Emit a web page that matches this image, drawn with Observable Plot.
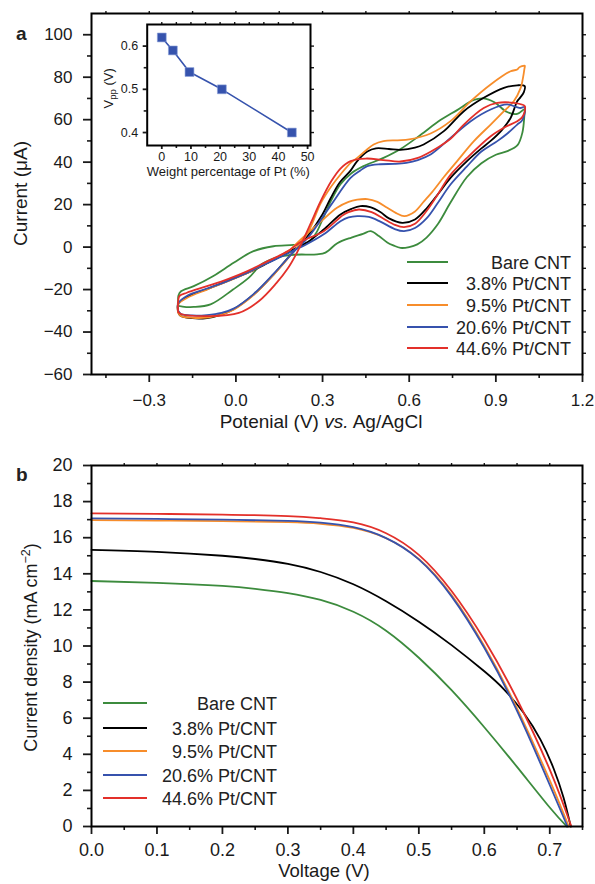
<!DOCTYPE html>
<html><head><meta charset="utf-8">
<script src="https://cdn.jsdelivr.net/npm/d3@7"></script>
<script src="https://cdn.jsdelivr.net/npm/@observablehq/plot@0.6"></script>
<style>
body{margin:0;background:#fff;font-family:"Liberation Sans",Arial,sans-serif;}
#root{position:relative;width:595px;height:884px;overflow:hidden;background:#fff}
#root svg{position:absolute;overflow:visible}
.lg{position:absolute;font-size:18px;color:#222;white-space:nowrap;line-height:1}
.lgline{position:absolute;height:2px}
.panel{position:absolute;font-weight:bold;font-size:19px;color:#222}
</style></head><body><div id="root"></div>
<script>
const FONT = "Liberation Sans, Arial, sans-serif";
const seriesNames = ["Bare CNT", "3.8% Pt/CNT", "9.5% Pt/CNT", "20.6% Pt/CNT", "44.6% Pt/CNT"];
const seriesColors = ["#3c8b3d", "#000000", "#f78d2b", "#3652ad", "#e3302a"];

// ---- Panel a: cyclic voltammograms [potential (V), current (µA)] ----
const cvBare = [[-0.2,-25.5],[-0.199,-22.8],[-0.19,-20.8],[-0.146,-18.4],[-0.078,-13.6],[-0.008,-7.4],[0.061,-1.9],[0.13,0.4],[0.2,1.0],[0.247,1.9],[0.275,6],[0.3,13],[0.33,22],[0.362,29.6],[0.4,34.8],[0.44,38],[0.511,42],[0.57,46.2],[0.639,52.8],[0.708,59.8],[0.766,64.5],[0.824,69.3],[0.858,70],[0.895,68.2],[0.939,63.6],[0.974,62.7],[1.0,65],
  [0.999,62.5],[0.992,54],[0.975,48],[0.94,45.2],[0.9,43.5],[0.85,39.5],[0.8,33],[0.743,21],[0.7,11],[0.66,4.5],[0.628,1.3],[0.6,0],[0.57,-0.4],[0.545,0.8],[0.524,2.2],[0.495,5.2],[0.466,7.5],[0.44,6.2],[0.4,4.5],[0.351,1.8],[0.31,-2.6],[0.281,-3.4],[0.2,-3.6],[0.143,-4.8],[0.09,-8],[0.045,-14.4],[-0.01,-20],[-0.088,-27],[-0.146,-28.2],[-0.185,-28],[-0.2,-27.5],[-0.2,-25.5]];
const cvPt38 = [[-0.2,-30.5],[-0.192,-32.3],[-0.15,-33.5],[-0.1,-33.4],[-0.05,-31.8],[-0.008,-29.3],[0.062,-22.3],[0.131,-12.8],[0.2,-2],[0.25,5.5],[0.3,15.5],[0.328,23],[0.36,30.5],[0.397,36],[0.42,40.5],[0.455,45],[0.485,46.5],[0.53,46.2],[0.57,45.8],[0.62,46.8],[0.65,48.3],[0.72,54.6],[0.789,64],[0.858,70.3],[0.928,75],[0.974,76.2],[1.0,75.8],
  [0.997,73],[0.985,70.5],[0.974,68.7],[0.951,60.8],[0.92,55],[0.882,50],[0.85,46.5],[0.8,40.5],[0.743,32.6],[0.7,25],[0.662,18.5],[0.62,13],[0.576,11.4],[0.53,13.5],[0.5,16.5],[0.465,18.8],[0.431,19.3],[0.4,18],[0.362,15.4],[0.304,8.3],[0.25,2.5],[0.2,-1],[0.18,-2.5],[0.11,-7.5],[0.04,-12.2],[-0.03,-16],[-0.1,-19.8],[-0.17,-23.5],[-0.2,-27],[-0.2,-30.5]];
const cvPt95 = [[-0.2,-31],[-0.19,-32.5],[-0.15,-33.3],[-0.1,-33.2],[-0.05,-31.8],[-0.008,-29.5],[0.062,-22.5],[0.131,-13],[0.2,-2],[0.25,7],[0.293,20.5],[0.33,28.5],[0.362,34.2],[0.4,40],[0.42,42],[0.45,45.5],[0.477,48.3],[0.511,49.9],[0.56,50.3],[0.6,50.7],[0.674,53.5],[0.743,59.3],[0.813,68.7],[0.882,76.6],[0.951,82.8],[0.974,83.6],[0.98,84.5],[0.99,85.2],[1.0,85.4],
  [0.999,84],[0.993,79],[0.986,75],[0.962,68.7],[0.928,64],[0.882,57.7],[0.824,49.9],[0.766,40.5],[0.72,33],[0.68,26],[0.651,21.5],[0.62,16.8],[0.583,14.6],[0.555,16],[0.524,18.5],[0.49,21.3],[0.455,22.6],[0.42,22.3],[0.39,21.3],[0.35,18.5],[0.29,11.5],[0.224,3.5],[0.19,-1],[0.18,-2],[0.11,-7.2],[0.04,-12.2],[-0.03,-16.2],[-0.1,-20],[-0.17,-24],[-0.2,-27],[-0.2,-31]];
const cvPt206 = [[-0.2,-30],[-0.19,-31.5],[-0.15,-32.2],[-0.1,-32],[-0.05,-31],[-0.008,-29],[0.062,-22],[0.131,-12.5],[0.2,-2.2],[0.25,4.5],[0.33,20],[0.397,32.6],[0.43,36],[0.455,38.1],[0.5,39],[0.55,39.2],[0.59,39.7],[0.63,41],[0.674,43.6],[0.743,51.4],[0.813,59.3],[0.882,64.8],[0.939,67.2],[0.97,66],[0.985,65.5],[1.0,66],
  [0.998,62],[0.99,59.5],[0.974,57.7],[0.94,53.5],[0.905,49.9],[0.85,45],[0.8,38],[0.743,29.5],[0.7,21],[0.66,13.5],[0.62,9],[0.582,7.5],[0.55,8.5],[0.5,12],[0.46,14.2],[0.42,14.6],[0.39,14],[0.362,12.2],[0.304,6],[0.24,1],[0.2,-1.5],[0.18,-3],[0.11,-7.5],[0.04,-12],[-0.03,-16],[-0.1,-19.5],[-0.17,-23],[-0.2,-26.5],[-0.2,-30]];
const cvPt446 = [[-0.2,-30.5],[-0.19,-31.5],[-0.09,-32.5],[0.01,-31],[0.08,-25.4],[0.14,-17],[0.18,-10],[0.21,-3],[0.235,4],[0.26,11.5],[0.293,21.5],[0.33,31],[0.362,37],[0.397,40.5],[0.45,41.7],[0.51,41],[0.57,40.3],[0.63,42],[0.7,47],[0.743,51],[0.789,57.7],[0.858,65.5],[0.905,67.9],[0.962,67.9],[1.0,66.4],
  [0.998,63],[0.99,61],[0.974,59.3],[0.928,56.2],[0.88,52],[0.8,42],[0.743,34],[0.7,25],[0.66,17],[0.62,11],[0.582,9.4],[0.55,10.5],[0.51,13.5],[0.47,16.5],[0.426,17.7],[0.39,16.5],[0.37,15],[0.304,7.5],[0.225,2.5],[0.18,-1.9],[0.11,-6.6],[0.04,-11.3],[-0.03,-15.2],[-0.1,-18.4],[-0.17,-21.5],[-0.195,-23],[-0.2,-25.4],[-0.2,-30.5]];
const cvXTicks = [-0.3, 0.0, 0.3, 0.6, 0.9, 1.2];
const cvXMinor = [-0.45, -0.15, 0.15, 0.45, 0.75, 1.05];
const cvYTicks = [-60, -40, -20, 0, 20, 40, 60, 80, 100];
const cvYMinor = [-50, -30, -10, 10, 30, 50, 70, 90];

// ---- Inset: peak-to-peak separation ----
const insetWt = [0, 3.8, 9.5, 20.6, 44.6];
const insetVpp = [0.62, 0.59, 0.54, 0.50, 0.40];
const insetXTicks = [0, 10, 20, 30, 40, 50];
const insetXMinor = [5, 15, 25, 35, 45];
const insetYTicks = [0.4, 0.5, 0.6];
const insetYMinor = [0.45, 0.55];

// ---- Panel b: J–V curves [voltage (V), current density (mA cm-2)] ----
const jvBare = [[0,13.6],[0.1,13.5],[0.2,13.33],[0.25,13.17],[0.3,12.93],[0.35,12.55],[0.4,11.9],[0.45,10.85],[0.5,9.35],[0.55,7.55],[0.6,5.5],[0.65,3.3],[0.7,1.05],[0.726,0]];
const jvPt38 = [[0,15.33],[0.1,15.22],[0.2,15.0],[0.25,14.82],[0.3,14.55],[0.35,14.1],[0.4,13.42],[0.45,12.48],[0.5,11.35],[0.55,10.05],[0.6,8.6],[0.63,7.6],[0.66,6.3],[0.686,4.8],[0.706,3.2],[0.721,1.6],[0.732,0]];
const jvPt95 = [[0,16.97],[0.1,16.95],[0.2,16.92],[0.3,16.86],[0.35,16.77],[0.4,16.54],[0.45,15.97],[0.5,14.82],[0.55,12.82],[0.6,10.0],[0.65,6.55],[0.7,2.55],[0.729,0]];
const jvPt206 = [[0,17.07],[0.1,17.04],[0.2,17.0],[0.3,16.93],[0.35,16.83],[0.4,16.58],[0.45,15.98],[0.5,14.8],[0.55,12.75],[0.6,9.9],[0.65,6.4],[0.7,2.3],[0.727,0]];
const jvPt446 = [[0,17.35],[0.1,17.32],[0.2,17.28],[0.3,17.2],[0.35,17.08],[0.4,16.85],[0.45,16.25],[0.5,15.05],[0.55,13.05],[0.6,10.35],[0.65,7.05],[0.7,3.15],[0.733,0]];
const jvXTicks = [0, 0.1, 0.2, 0.3, 0.4, 0.5, 0.6, 0.7];
const jvXMinor = [0.05, 0.15, 0.25, 0.35, 0.45, 0.55, 0.65, 0.75];
const jvYTicks = [0, 2, 4, 6, 8, 10, 12, 14, 16, 18, 20];
const jvYMinor = [1, 3, 5, 7, 9, 11, 13, 15, 17, 19];

const cvSeries = [cvBare, cvPt38, cvPt95, cvPt206, cvPt446];
const jvSeries = [jvBare, jvPt38, jvPt95, jvPt206, jvPt446];
const cvRows = cvSeries.flatMap((arr, i) => arr.map(([v, c]) => ({s: seriesNames[i], v, c})));
const jvRows = jvSeries.flatMap((arr, i) => arr.map(([v, j]) => ({s: seriesNames[i], v, j})));
const insetRows = insetWt.map((w, i) => ({w, vpp: insetVpp[i]}));

const root = document.getElementById("root");
const f1 = d3.format(".1f"), fd = d3.format("d");
const colorOpt = {domain: seriesNames, range: seriesColors};

function frameTicks(xTicks, xMinor, yTicks, yMinor, topTicks, rightTicks, opts) {
  const {fmtX, fmtY, major, minor, padX, padY, small, fontSize} = opts;
  const fs = fontSize ? {fontSize} : {};
  return [
    Plot.axisX({ticks: xTicks, tickFormat: fmtX, tickSize: major, tickPadding: padX, label: null, strokeWidth: 1.8, ...fs}),
    Plot.axisX({ticks: xMinor, tickSize: minor, text: null, label: null, strokeWidth: 1.6}),
    Plot.axisY({ticks: yTicks, tickFormat: fmtY, tickSize: major, tickPadding: padY, label: null, strokeWidth: 1.8, ...fs}),
    Plot.axisY({ticks: yMinor, tickSize: minor, text: null, label: null, strokeWidth: 1.6}),
    Plot.axisX({anchor: "top", ticks: topTicks, tickSize: small, text: null, label: null, strokeWidth: 1.4}),
    Plot.axisY({anchor: "right", ticks: rightTicks, tickSize: small, text: null, label: null, strokeWidth: 1.4}),
    Plot.frame({stroke: "#000", strokeWidth: 2})
  ];
}

// ---------- Panel a ----------
const plotA = Plot.plot({
  width: 595, height: 440,
  marginLeft: 91, marginRight: 13, marginTop: 13, marginBottom: 66,
  style: {fontFamily: FONT, fontSize: "17px", color: "#1a1a1a", background: "transparent"},
  x: {domain: [-0.5, 1.2]},
  y: {domain: [-60, 110]},
  color: colorOpt,
  marks: [
    Plot.line(cvRows, {x: "v", y: "c", z: "s", stroke: "s", strokeWidth: 1.8, curve: "catmull-rom"}),
    ...frameTicks(cvXTicks, cvXMinor, cvYTicks, cvYMinor,
      [...cvXTicks, ...cvXMinor].filter(d => d > -0.5 && d < 1.2),
      [...cvYTicks, ...cvYMinor].filter(d => d > -60 && d < 110),
      {fmtX: f1, fmtY: fd, major: 8, minor: 4, padX: 11, padY: 11, small: 3})
  ]
});
plotA.style.left = "0px"; plotA.style.top = "0px";
root.appendChild(plotA);

// ---------- Inset ----------
const plotI = Plot.plot({
  width: 230, height: 190,
  marginLeft: 46.7, marginRight: 20, marginTop: 14, marginBottom: 55,
  style: {fontFamily: FONT, fontSize: "12.5px", color: "#1a1a1a", background: "transparent"},
  x: {domain: [-5, 51]},
  y: {domain: [0.37, 0.65]},
  marks: [
    Plot.line(insetRows, {x: "w", y: "vpp", stroke: "#3653ad", strokeWidth: 1.6}),
    Plot.dot(insetRows, {x: "w", y: "vpp", symbol: "square", r: 5, fill: "#3653ad", stroke: "#8a9fd8", strokeWidth: 0.6}),
    ...frameTicks(insetXTicks, insetXMinor, insetYTicks, insetYMinor,
      [...insetXTicks, ...insetXMinor].filter(d => d > -5 && d < 50),
      [...insetYTicks, ...insetYMinor],
      {fmtX: fd, fmtY: f1, major: 4, minor: 3, padX: 3, padY: 5, small: 3, fontSize: 12.5})
  ]
});
plotI.style.left = "100px"; plotI.style.top = "10px";
root.appendChild(plotI);

// ---------- Panel b ----------
const plotB = Plot.plot({
  width: 595, height: 444,
  marginLeft: 91, marginRight: 13, marginTop: 25, marginBottom: 58,
  style: {fontFamily: FONT, fontSize: "18px", color: "#1a1a1a", background: "transparent"},
  x: {domain: [0, 0.75]},
  y: {domain: [0, 20]},
  color: colorOpt,
  marks: [
    Plot.line(jvRows, {x: "v", y: "j", z: "s", stroke: "s", strokeWidth: 1.8, curve: "natural"}),
    ...frameTicks(jvXTicks, jvXMinor, jvYTicks, jvYMinor,
      d3.range(1, 15).map(i => i * 0.05),
      d3.range(1, 20),
      {fmtX: f1, fmtY: fd, major: 8, minor: 4, padX: 9, padY: 11, small: 3})
  ]
});
plotB.style.left = "0px"; plotB.style.top = "440px";
root.appendChild(plotB);

// ---------- Text helpers ----------
function addText(svg, x, y, rotate, size, parts, anchor = "middle") {
  const t = d3.select(svg).append("text")
    .attr("transform", `translate(${x},${y}) rotate(${rotate})`)
    .attr("text-anchor", anchor).attr("font-family", FONT)
    .attr("font-size", size).attr("fill", "#1a1a1a");
  parts.forEach(p => {
    const ts = t.append("tspan").text(p.text);
    if (p.italic) ts.attr("font-style", "italic");
    if (p.dy) ts.attr("dy", p.dy);
    if (p.size) ts.attr("font-size", p.size);
  });
}
const xa = plotA.scale("x"), ya = plotA.scale("y");
addText(plotA, 321, 428, 0, 19,
  [{text: "Potenial (V) "}, {text: "vs.", italic: true}, {text: " Ag/AgCl"}]);
addText(plotA, 27, (ya.apply(-60) + ya.apply(110)) / 2, -90, 19, [{text: "Current (μA)"}]);

const xi = plotI.scale("x"), yi = plotI.scale("y");
addText(plotI, (xi.apply(-5) + xi.apply(51)) / 2, 166, 0, 13, [{text: "Weight percentage of Pt (%)"}]);
addText(plotI, 12.5, yi.apply(0.5) - 0.5, -90, 13,
  [{text: "V"}, {text: "pp", size: 9.5, dy: "3"}, {text: " (V)", dy: "-3"}]);

const xb = plotB.scale("x"), yb = plotB.scale("y");
addText(plotB, 324, 437, 0, 18.5, [{text: "Voltage (V)"}]);
addText(plotB, 37, (yb.apply(0) + yb.apply(20)) / 2 + 2, -90, 18,
  [{text: "Current density (mA cm"}, {text: "−2", size: 12.5, dy: "-7"}, {text: ")", dy: "7"}]);

// ---------- Panel letters ----------
function panelLetter(txt, left, top) {
  const d = document.createElement("div");
  d.className = "panel"; d.textContent = txt;
  d.style.left = left + "px"; d.style.top = top + "px";
  root.appendChild(d);
}
panelLetter("a", 16, 23);
panelLetter("b", 16, 464);

// ---------- Legends ----------
function legend(lineX1, lineX2, textRight, rowYs) {
  seriesNames.forEach((name, i) => {
    const ln = document.createElement("div");
    ln.className = "lgline";
    ln.style.left = lineX1 + "px"; ln.style.width = (lineX2 - lineX1) + "px";
    ln.style.top = (rowYs[i] - 1) + "px"; ln.style.background = seriesColors[i];
    root.appendChild(ln);
    const tx = document.createElement("div");
    tx.className = "lg"; tx.textContent = name;
    tx.style.right = (595 - textRight) + "px";
    tx.style.top = (rowYs[i] - 8) + "px";
    root.appendChild(tx);
  });
}
legend(406.7, 448.3, 571, [261.7, 283.3, 305, 326.7, 348.3]);
legend(102.7, 146.7, 277, [703.3, 728, 751, 775, 798.3]);
</script></body></html>
